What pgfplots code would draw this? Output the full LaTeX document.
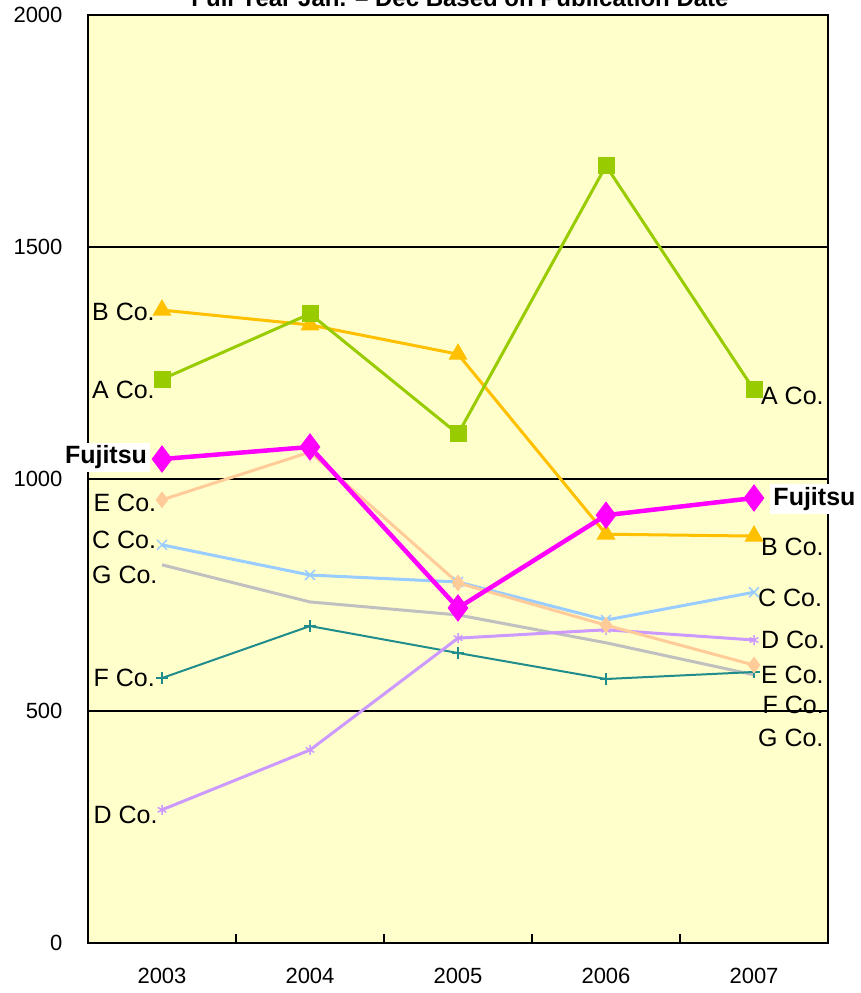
\documentclass[border=0pt]{standalone}
\usepackage{pgfplots}
\pgfplotsset{compat=1.18}
\usepackage{fontspec}
\setmainfont{Liberation Sans}
\definecolor{bgY}{RGB}{255,255,204}
\definecolor{cA}{RGB}{153,204,0}
\definecolor{cB}{RGB}{255,192,0}
\definecolor{cFj}{RGB}{255,0,255}
\definecolor{cE}{RGB}{255,204,153}
\definecolor{cC}{RGB}{153,204,255}
\definecolor{cD}{RGB}{204,153,255}
\definecolor{cF}{RGB}{32,140,140}
\definecolor{cG}{RGB}{192,192,192}
\begin{document}
\begin{tikzpicture}
\begin{axis}[
  at={(88pt,50pt)}, anchor=south west,
  scale only axis, width=740pt, height=928pt,
  xmin=-0.5, xmax=4.5, ymin=0, ymax=2000,
  axis background/.style={fill=bgY},
  xtick={0,1,2,3,4},
  xticklabels={2003,2004,2005,2006,2007},
  minor xtick={0.5,1.5,2.5,3.5},
  major x tick style={draw=none},
  minor tick length=9pt,
  tick align=inside,
  xtick pos=bottom,
  ytick={0,500,1000,1500,2000},
  ytick style={draw=none},
  ymajorgrids, grid style={black, line width=1.5pt},
  axis line style={line width=1.2pt},
  minor x tick style={line width=1.5pt, black},
  xticklabel style={yshift=-22pt, font=\fontsize{22}{26}\selectfont},
  yticklabel style={xshift=-22pt, font=\fontsize{22}{26}\selectfont},
  /pgf/number format/assume math mode=true,
  /pgf/number format/1000 sep={},
  clip=false,
]
% G Co.
\addplot[color=cG, line width=3pt, mark=none] coordinates {(0,815) (1,735) (2,707) (3,647) (4,578)};
% F Co.
\addplot[color=cF, line width=2pt, mark=+, mark size=6pt, mark options={line width=1.5pt}] coordinates {(0,571) (1,683) (2,625) (3,569) (4,584)};
% D Co.
\addplot[color=cD, line width=3pt, mark=asterisk, mark size=5pt, mark options={line width=1.5pt}] coordinates {(0,287) (1,416) (2,657) (3,675) (4,653)};
% C Co.
\addplot[color=cC, line width=3pt, mark=x, mark size=7pt, mark options={line width=1.5pt}] coordinates {(0,858) (1,793) (2,778) (3,696) (4,756)};
% E Co.
\addplot[color=cE, line width=3pt, mark=diamond*, mark size=6pt] coordinates {(0,955) (1,1058) (2,776) (3,685) (4,599)};
% B Co.
\addplot[color=cB, line width=3pt, mark=triangle*, mark size=8pt] coordinates {(0,1364) (1,1332) (2,1269) (3,881) (4,877)};
% A Co.
\addplot[color=cA, line width=3pt, mark=square*, mark size=7pt] coordinates {(0,1215) (1,1356) (2,1097) (3,1675) (4,1192)};
% Fujitsu
\addplot[color=cFj, line width=4.5pt, mark=diamond*, mark size=13pt, mark options={line width=1pt}] coordinates {(0,1043) (1,1069) (2,722) (3,922) (4,959)};
% left labels
\begin{scope}[every node/.style={font=\fontsize{25}{30}\selectfont, inner sep=1pt}]
\node[anchor=west] at (axis cs:-0.48,1360) {B Co.};
\node[anchor=west] at (axis cs:-0.48,1192) {A Co.};
\node[anchor=east, fill=white, inner sep=3pt, font=\fontsize{25}{30}\selectfont\bfseries] at (axis cs:-0.08,1047) {Fujitsu};
\node[anchor=west] at (axis cs:-0.47,948) {E Co.};
\node[anchor=west] at (axis cs:-0.48,869) {C Co.};
\node[anchor=west] at (axis cs:-0.48,793) {G Co.};
\node[anchor=west] at (axis cs:-0.47,571) {F Co.};
\node[anchor=west] at (axis cs:-0.47,276) {D Co.};
% right labels
\node[anchor=west] at (axis cs:4.04,1179) {A Co.};
\node[anchor=west, fill=white, inner sep=3pt, font=\fontsize{25}{30}\selectfont\bfseries] at (axis cs:4.11,957) {Fujitsu};
\node[anchor=west] at (axis cs:4.04,853) {B Co.};
\node[anchor=west] at (axis cs:4.02,744) {C Co.};
\node[anchor=west] at (axis cs:4.04,653) {D Co.};
\node[anchor=west] at (axis cs:4.04,578) {E Co.};
\node[anchor=west] at (axis cs:4.05,513) {F Co.};
\node[anchor=west] at (axis cs:4.02,442) {G Co.};
\end{scope}
\end{axis}
\node[anchor=base, font=\fontsize{24}{28}\selectfont\bfseries] at (460pt,986pt) {Full Year Jan. -- Dec Based on Publication Date};
\pgfresetboundingbox
\path[use as bounding box] (0,0) rectangle (861pt,993pt);
\end{tikzpicture}
\end{document}
